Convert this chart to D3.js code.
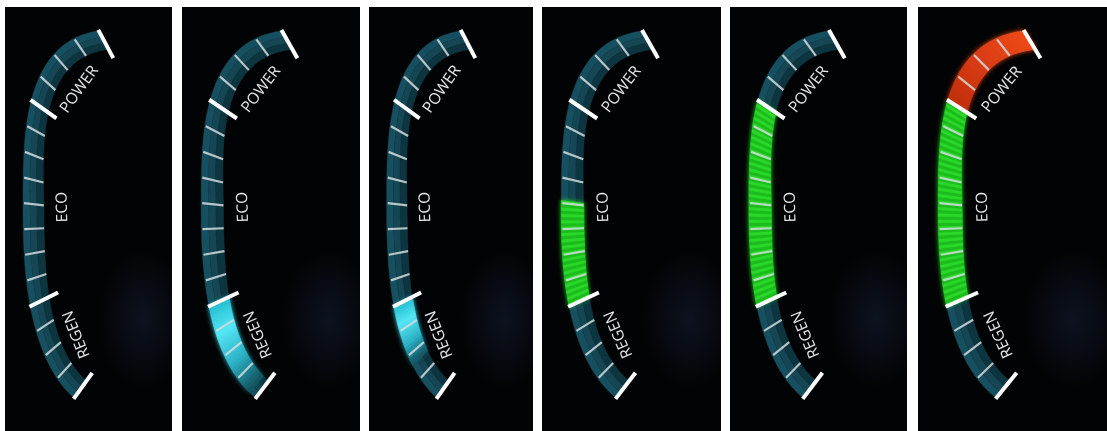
<!DOCTYPE html>
<html>
<head>
<meta charset="utf-8">
<script src="https://cdn.jsdelivr.net/npm/d3@7"></script>
<style>
html, body { margin: 0; padding: 0; background: #fff; }
svg { display: block; }
text { font-family: "Open Sans", sans-serif; }
</style>
</head>
<body>
<svg width="1107" height="431"></svg>
<script>
const svg = d3.select('svg');
const width = +svg.attr('width');
const height = +svg.attr('height');

// Panel frames (left / right edge of each photo)
const panelLeft = [5, 182, 369, 542, 730, 918];
const panelRight = [172, 360, 533, 721, 907, 1107];
const panelTop = 7;

// How far each zone is lit, in tick steps
const regenLevel = [0, 3.7, 2.4, 0, 0, 0];   // from tick 12 downwards
const ecoLevel   = [0, 0, 0, 4.1, 8, 8];     // from tick 12 upwards
const powerLevel = [0, 0, 0, 0, 0, 4];       // from tick 4 upwards

const tickValues = d3.range(0, 17);
const majorTicks = [0, 4, 12, 16];
const zoneNames = ['POWER', 'ECO', 'REGEN'];
const zoneCenters = [2.2, 8, 14.2];
const zoneInsets = [41, 38, 38];

// gauge shape, in the frame of the first panel
const baseW = 167;
const geo = {
    cx: 128, cy: 198, rx: 110,
    ryTop: 176, nTop: 3,
    ryBot: 212, nBot: 2.5,
    a0: 260, a1: 117.2,
    fx: 195, fy: 215,
    band: 21
};

const curvePoint = deg => {
    const a = deg * Math.PI / 180;
    const c = Math.cos(a), s = Math.sin(a);
    const top = s < 0;
    const e = 2 / (top ? geo.nTop : geo.nBot);
    const ry = top ? geo.ryTop : geo.ryBot;
    return [geo.cx + geo.rx * Math.sign(c) * Math.pow(Math.abs(c), e),
            geo.cy + ry * Math.sign(s) * Math.pow(Math.abs(s), e)];
};

// arc length along the outer edge so ticks are evenly spaced
const angleSamples = d3.range(0, 801).map(i => geo.a0 + (geo.a1 - geo.a0) * i / 800);
const curvePts = angleSamples.map(curvePoint);
const cumLen = [0];
for (let i = 1; i < curvePts.length; i++) {
    cumLen.push(cumLen[i - 1] + Math.hypot(curvePts[i][0] - curvePts[i - 1][0],
                                           curvePts[i][1] - curvePts[i - 1][1]));
}
const tickScale = d3.scaleLinear().domain([0, 16]).range([0, cumLen[cumLen.length - 1]]);
const lenToAngle = d3.scaleLinear().domain(cumLen).range(angleSamples);

const gauge = (t, inset) => {
    const p = curvePoint(lenToAngle(tickScale(t)));
    const dx = geo.fx - p[0], dy = geo.fy - p[1];
    const L = Math.hypot(dx, dy);
    return [p[0] + dx / L * inset, p[1] + dy / L * inset];
};

const regenColor = d3.scaleLinear()
    .domain([0, 0.3, 0.65, 1])
    .range(['#26bfd2', '#55e6f5', '#2cb2c6', '#104b58']);
const powerColor = d3.scaleLinear()
    .domain([0, 1])
    .range(['#c22f0d', '#f04a1a']);
const ecoColor = (f, j) => j % 2 ? '#1cbc1c' : '#2ad82a';

/******* defs *******/
const defs = svg.append('defs');
const soft = defs.append('filter').attr('id', 'soft')
    .attr('x', '-10%').attr('y', '-10%').attr('width', '120%').attr('height', '120%');
soft.append('feGaussianBlur').attr('stdDeviation', 0.6);

const glow = defs.append('filter').attr('id', 'glow')
    .attr('x', '-30%').attr('y', '-30%').attr('width', '160%').attr('height', '160%');
glow.append('feGaussianBlur').attr('in', 'SourceGraphic').attr('stdDeviation', 2.5).attr('result', 'b');
const merge = glow.append('feMerge');
merge.append('feMergeNode').attr('in', 'b');
merge.append('feMergeNode').attr('in', 'SourceGraphic');

const haze = defs.append('radialGradient').attr('id', 'haze');
haze.append('stop').attr('offset', '0%').attr('stop-color', '#1a2542').attr('stop-opacity', 0.45);
haze.append('stop').attr('offset', '100%').attr('stop-color', '#1a2542').attr('stop-opacity', 0);

const bandStrips = [[0, 7, '#17505e'], [7, 14, '#124552'], [14, geo.band, '#0d3540']];
const tSamples = d3.range(0, 161).map(i => i / 10);

/******* panels *******/
panelLeft.forEach((x0, i) => {
    const w = panelRight[i] - x0;
    const kx = w / baseW;
    const pt = (t, inset) => { const p = gauge(t, inset); return [p[0] * kx, p[1]]; };
    const line = d3.line();

    defs.append('clipPath').attr('id', 'clip' + i)
        .append('rect').attr('width', w).attr('height', height - panelTop);

    const g = svg.append('g')
        .attr('transform', `translate(${x0},${panelTop})`)
        .attr('clip-path', `url(#clip${i})`);
    g.append('rect')
        .attr('width', w).attr('height', height - panelTop)
        .attr('fill', '#020304');
    g.append('ellipse')
        .attr('cx', 138 * kx).attr('cy', 312)
        .attr('rx', 45 * kx).attr('ry', 70)
        .attr('fill', 'url(#haze)');

    const gg = g.append('g').attr('filter', 'url(#soft)');

    // dark band
    gg.selectAll('.strip').data(bandStrips).enter()
        .append('path')
        .attr('class', 'strip')
        .attr('fill', d => d[2])
        .attr('stroke', d => d[2]).attr('stroke-width', 0.5)
        .attr('d', d => line(tSamples.map(t => pt(t, d[0]))
            .concat(tSamples.slice().reverse().map(t => pt(t, d[1])))) + 'Z');

    // lit segments
    const fills = [];
    const addFill = (t0, t1, colorFn) => {
        if (t0 === t1) return;
        const n = Math.ceil(Math.abs(t1 - t0) / 0.125);
        for (let j = 0; j < n; j++) {
            const ta = t0 + (t1 - t0) * j / n;
            const tb = t0 + (t1 - t0) * (j + 1) / n;
            fills.push({ ta, tb, color: colorFn(j / n, j) });
        }
    };
    addFill(12, 12 + regenLevel[i], regenColor);
    addFill(12, 12 - ecoLevel[i], ecoColor);
    addFill(4, 4 - powerLevel[i], powerColor);

    gg.append('g').attr('filter', 'url(#glow)')
        .selectAll('path').data(fills).enter()
        .append('path')
        .attr('fill', d => d.color)
        .attr('stroke', d => d.color).attr('stroke-width', 0.6)
        .attr('d', d => line([pt(d.ta, 0), pt(d.tb, 0), pt(d.tb, geo.band), pt(d.ta, geo.band)]) + 'Z');

    // ticks
    gg.selectAll('.tick').data(tickValues).enter()
        .append('line')
        .attr('class', 'tick')
        .each(function (t) {
            const major = majorTicks.includes(t);
            const a = pt(t, major ? -1 : 1);
            const b = pt(t, major ? 31 : 21);
            d3.select(this)
                .attr('x1', a[0]).attr('y1', a[1])
                .attr('x2', b[0]).attr('y2', b[1])
                .attr('stroke', major ? '#ffffff' : '#d3dcde')
                .attr('stroke-opacity', major ? 1 : 0.85)
                .attr('stroke-width', major ? 4 : 2.2);
        });

    // zone labels
    gg.selectAll('.zone').data(zoneNames).enter()
        .append('text')
        .attr('class', 'zone')
        .attr('font-size', 15.5)
        .attr('fill', '#e6e8e8')
        .attr('text-anchor', 'middle')
        .attr('dominant-baseline', 'central')
        .attr('transform', (d, k) => {
            const t = zoneCenters[k];
            const p = pt(t, zoneInsets[k]);
            const a = pt(t + 0.4, zoneInsets[k]), b = pt(t - 0.4, zoneInsets[k]);
            const ang = Math.atan2(b[1] - a[1], b[0] - a[0]) * 180 / Math.PI;
            return `translate(${p[0]},${p[1]}) rotate(${ang})`;
        })
        .text(d => d);
});
</script>
</body>
</html>
